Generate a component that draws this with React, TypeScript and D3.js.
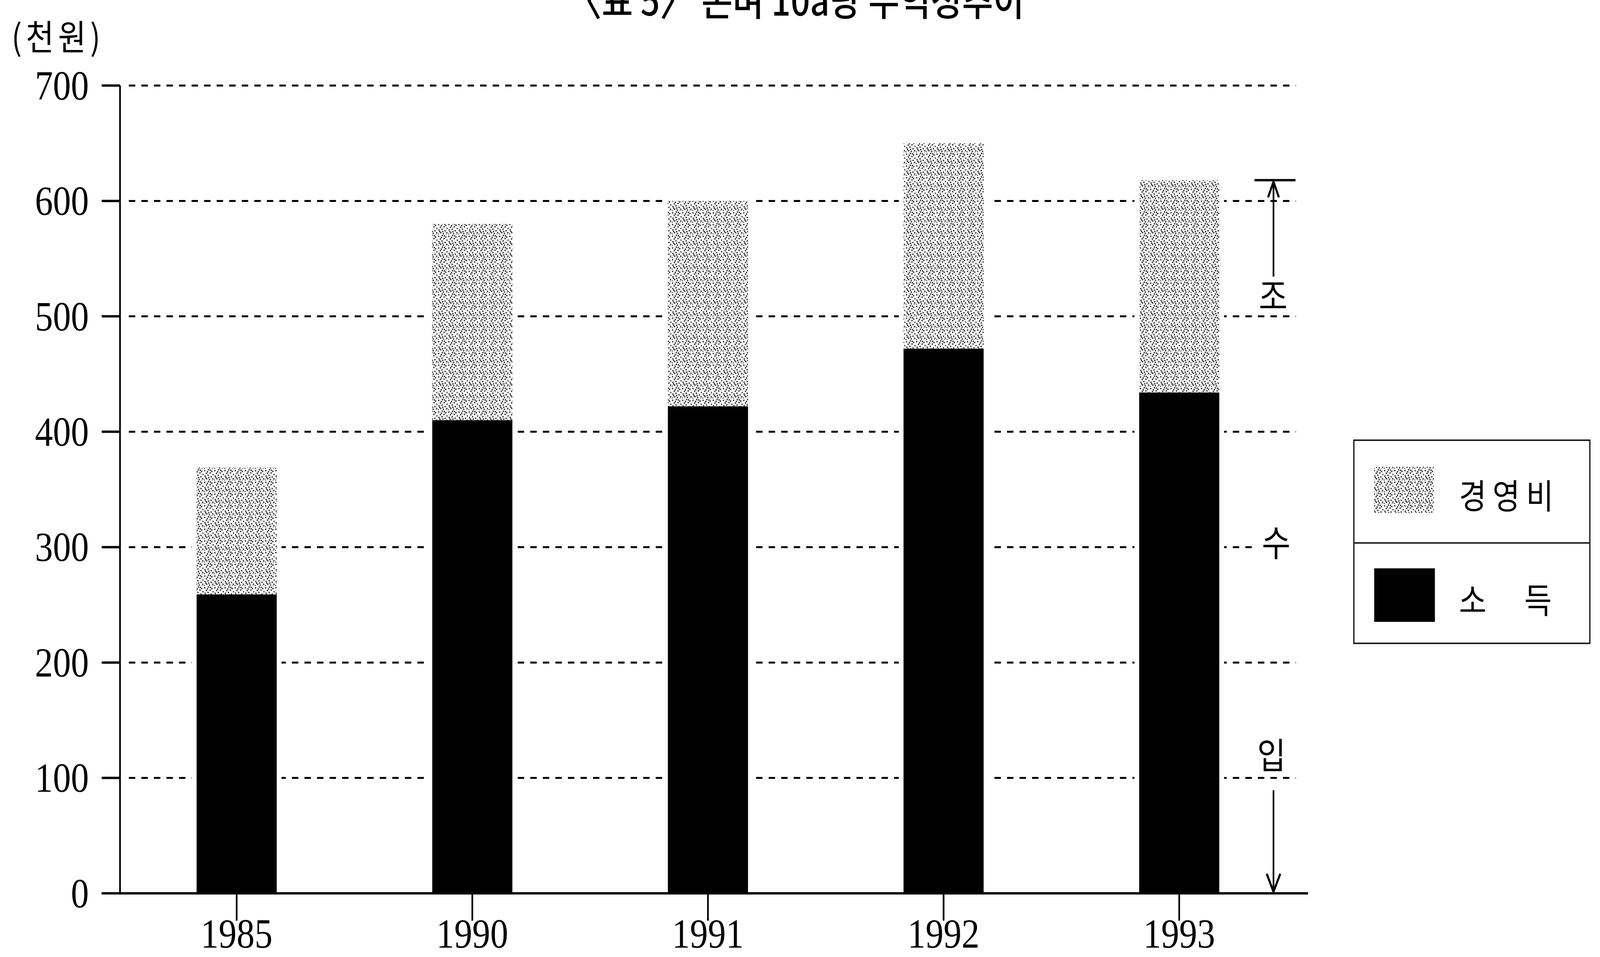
import React from "react";
import * as d3 from "d3";

const years = ["1985", "1990", "1991", "1992", "1993"];
const income = [259, 410, 422, 472, 434]; // 소득
const cost = [110, 170, 178, 178, 184]; // 경영비
const yTicks = [0, 100, 200, 300, 400, 500, 600, 700];
const title = "〈표 5〉 논벼 10a당 수익성추이";
const unitLabel = "(천원)";
const legendLabels = ["경영비", "소 득"];
const sideLabels = ["조", "수", "입"];

// stipple texture (fixed dot offsets within a 30x30 tile)
const stipple: [number, number][] = [
  [2, 3], [13, 1], [23, 5], [7, 10], [18, 9], [27, 13], [3, 17], [12, 15],
  [21, 19], [8, 24], [16, 26], [26, 24], [1, 28], [14, 21], [24, 29], [10, 6],
  [19, 2], [5, 21],
];

const W = 4719;
const H = 2450;
const KR = "'Noto Sans CJK KR', 'Noto Sans', sans-serif";
const SERIF = "'Liberation Serif', 'DejaVu Serif', serif";

export default function App() {
  const x = d3
    .scaleBand<string>()
    .domain(years)
    .range([354, 3822])
    .paddingInner(0.66)
    .paddingOuter(0.325);
  const y = d3.scaleLinear().domain([0, 700]).range([2287, 219]);
  const bw = x.bandwidth();
  const totals = income.map((v, i) => v + cost[i]);
  const lastTotal = totals[totals.length - 1];
  const arrowX = 3756;

  return (
    <svg
      viewBox={`0 0 ${W} ${H}`}
      preserveAspectRatio="none"
      style={{
        position: "fixed",
        left: 0,
        top: 0,
        width: "100vw",
        height: "100vh",
        background: "#fff",
        display: "block",
      }}
    >
      <defs>
        <pattern id="stip" width={30} height={30} patternUnits="userSpaceOnUse">
          <rect width={30} height={30} fill="#fff" />
          {stipple.map(([px, py], i) => (
            <rect key={i} x={px} y={py} width={3.6} height={3.6} fill="#222" />
          ))}
        </pattern>
      </defs>
      <rect width={W} height={H} fill="#fff" />

      {/* title (cut off at the top like the reference) */}
      <text
        x={2348}
        y={40}
        textAnchor="middle"
        fontFamily={KR}
        fontSize={100}
        fontWeight={500}
        fill="#000"
      >
        {title}
      </text>

      {/* unit label */}
      <text
        x={34}
        y={88}
        dominantBaseline="central"
        fontFamily={KR}
        fontSize={90}
        letterSpacing={12}
        fill="#000"
      >
        {unitLabel}
      </text>

      {/* gridlines */}
      {yTicks
        .filter((t) => t > 0)
        .map((t) => (
          <line
            key={t}
            x1={380}
            x2={3822}
            y1={y(t)}
            y2={y(t)}
            stroke="#000"
            strokeWidth={5}
            strokeDasharray="19 18"
          />
        ))}

      {/* bars */}
      {years.map((yr, i) => (
        <g key={yr}>
          <rect
            x={(x(yr) as number) - 14}
            y={y(totals[i]) - 4}
            width={bw + 28}
            height={y(0) - y(totals[i]) + 4}
            fill="#fff"
          />
          <rect
            x={x(yr)}
            y={y(totals[i])}
            width={bw}
            height={y(income[i]) - y(totals[i])}
            fill="url(#stip)"
          />
          <rect
            x={x(yr)}
            y={y(income[i])}
            width={bw}
            height={y(0) - y(income[i])}
            fill="#000"
          />
        </g>
      ))}

      {/* y axis */}
      <line x1={354} x2={354} y1={y(700)} y2={y(0)} stroke="#000" strokeWidth={5} />
      {yTicks.map((t) => (
        <g key={t}>
          <line x1={300} x2={354} y1={y(t)} y2={y(t)} stroke="#000" strokeWidth={6} />
          <text
            x={262}
            y={y(t)}
            textAnchor="end"
            dominantBaseline="central"
            fontFamily={SERIF}
            fontSize={106}
            fill="#000"
          >
            {t}
          </text>
        </g>
      ))}

      {/* x axis */}
      <line x1={300} x2={3858} y1={y(0)} y2={y(0)} stroke="#000" strokeWidth={6} />
      {years.map((yr) => {
        const cx = (x(yr) as number) + bw / 2;
        return (
          <g key={yr}>
            <line x1={cx} x2={cx} y1={y(0)} y2={y(0) + 70} stroke="#000" strokeWidth={5} />
            <text
              x={cx}
              y={2426}
              textAnchor="middle"
              fontFamily={SERIF}
              fontSize={106}
              fill="#000"
            >
              {yr}
            </text>
          </g>
        );
      })}

      {/* 조수입 annotation */}
      <line x1={3700} x2={3821} y1={y(lastTotal)} y2={y(lastTotal)} stroke="#000" strokeWidth={6} />
      <line x1={arrowX} x2={arrowX} y1={y(lastTotal) + 4} y2={708} stroke="#000" strokeWidth={5} />
      <path
        d={`M${arrowX - 16},${y(lastTotal) + 44} L${arrowX},${y(lastTotal) + 4} L${arrowX + 16},${y(lastTotal) + 44}`}
        fill="none"
        stroke="#000"
        strokeWidth={6}
      />
      <line x1={arrowX} x2={arrowX} y1={2023} y2={y(0) - 4} stroke="#000" strokeWidth={5} />
      <path
        d={`M${arrowX - 20},${y(0) - 50} L${arrowX},${y(0) - 4} L${arrowX + 20},${y(0) - 50}`}
        fill="none"
        stroke="#000"
        strokeWidth={6}
      />
      <rect x={3700} y={1330} width={140} height={110} fill="#fff" />
      {[752, 1384, 1928].map((cy, i) => (
        <text
          key={i}
          x={[3755, 3764, 3750][i]}
          y={cy}
          textAnchor="middle"
          dominantBaseline="central"
          fontFamily={KR}
          fontSize={92}
          fill="#000"
        >
          {sideLabels[i]}
        </text>
      ))}

      {/* legend */}
      <rect x={3993} y={1127} width={696} height={520} fill="#fff" stroke="#222" strokeWidth={4} />
      <line x1={3993} x2={4689} y1={1390} y2={1390} stroke="#222" strokeWidth={4} />
      <rect x={4053} y={1195} width={176} height={118} fill="url(#stip)" />
      <rect x={4053} y={1455} width={179} height={137} fill="#000" />
      <text
        x={4303}
        y={1264}
        dominantBaseline="central"
        fontFamily={KR}
        fontSize={88}
        letterSpacing={18}
        fill="#000"
      >
        {legendLabels[0]}
      </text>
      <text
        x={4303}
        y={1531}
        dominantBaseline="central"
        fontFamily={KR}
        fontSize={88}
        letterSpacing={46}
        fill="#000"
      >
        {legendLabels[1]}
      </text>
    </svg>
  );
}
